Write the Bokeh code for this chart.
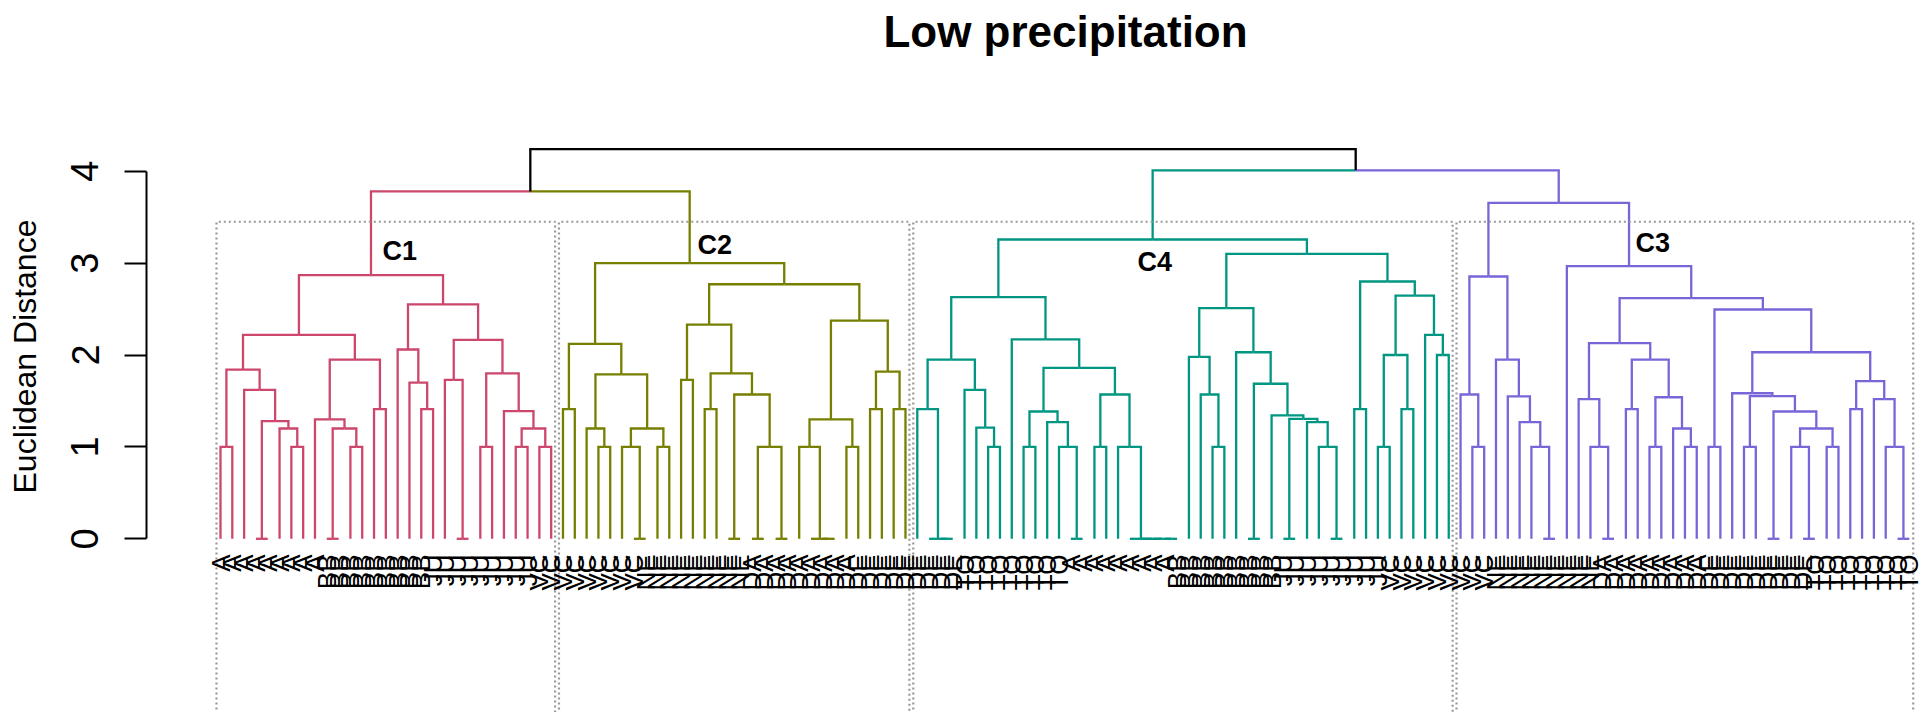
import math
from bokeh.plotting import figure
from bokeh.models import Range1d, FixedTicker, Label
from bokeh.core.properties import value
from bokeh.embed import file_html
from bokeh.resources import INLINE

# ---------------- data ----------------
title_text = "Low precipitation"
y_label = "Euclidean Distance"
y_ticks = [0, 1, 2, 3, 4]

# leaf labels (16 groups of 9 leaves, left to right)
label_groups = ["A", "BB", "JU", "VC", "NE", "DA", "DE", "TO",
                "A", "BB", "JU", "VC", "NE", "DA", "DE", "TO"]
group_size = 9

cluster_names = ["C1", "C2", "C4", "C3"]
cluster_colors = ["#CC476B", "#767F00", "#009681", "#7866D8"]

# merge trees: [left, right, height]; integers are leaf positions
c1_tree = [[[[0, 1, 1.00], [2, [[3, 4, 0.00], [5, [6, 7, 1.00], 1.20], 1.28], 1.62], 1.84],
            [[8, [[9, 10, 0.00], [11, 12, 1.00], 1.20], 1.30], [13, 14, 1.41], 1.95], 2.22],
           [[15, [16, [17, 18, 1.41], 1.70], 2.06],
            [[19, [20, 21, 0.00], 1.73],
             [[22, 23, 1.00], [24, [[25, 26, 1.00], [27, 28, 1.00], 1.20], 1.39], 1.80], 2.165], 2.55],
           2.87]

c2_tree = [[[29, 30, 1.41],
            [[31, [32, 33, 1.00], 1.20], [[34, [35, 36, 0.00], 1.00], [37, 38, 1.00], 1.20], 1.79], 2.12],
           [[[39, 40, 1.73],
             [[41, 42, 1.41], [[43, 44, 0.00], [[45, 46, 0.00], [47, 48, 0.00], 1.00], 1.57], 1.80], 2.33],
            [[[49, [50, [51, 52, 0.00], 0.00], 1.00], [53, 54, 1.00], 1.30],
             [[55, 56, 1.41], [57, 58, 1.41], 1.82], 2.375], 2.77],
           3.00]

c4_tree = [[[[59, [60, [61, 62, 0.00], 0.00], 1.41], [63, [64, [65, 66, 1.00], 1.21], 1.62], 1.95],
            [67, [[[68, 69, 1.00], [70, [71, [72, 73, 0.00], 1.00], 1.27], 1.385],
                  [[74, 75, 1.00], [76, [77, [78, [79, [80, 81, 0.00], 0.00], 0.00], 0.00], 1.00], 1.57],
                  1.86], 2.17], 2.63],
           [[[82, [83, [84, 85, 1.00], 1.57], 1.98],
             [86, [[87, 88, 0.00],
                   [89, [[90, 91, 0.00], [92, [93, [94, 95, 0.00], 1.00], 1.27], 1.306], 1.342],
                   1.687], 2.03], 2.51],
            [[96, 97, 1.41],
             [[[98, 99, 1.00], [100, 101, 1.41], 2.00], [102, [103, 104, 2.00], 2.22], 2.647], 2.80],
            3.10],
           3.257]

c3_tree = [[[105, [106, 107, 1.00], 1.57],
            [108, [109, [110, [111, [112, 113, 0.00], 1.00], 1.27], 1.55], 1.95], 2.854],
           [114,
            [[[115, [116, [117, 118, 0.00], 1.00], 1.52],
              [[119, 120, 1.41], [[121, 122, 1.00], [123, [124, 125, 1.00], 1.20], 1.54], 1.95], 2.13],
             [[126, 127, 1.00],
              [[128, [[129, 130, 1.00],
                      [[131, 132, 0.00], [[133, [134, 135, 0.00], 1.00], [136, 137, 1.00], 1.20], 1.385],
                      1.552], 1.584],
               [[138, 139, 1.41], [140, [141, [142, 143, 0.00], 1.00], 1.52], 1.715], 2.03],
              2.495], 2.618],
            2.967],
           3.656]

h_c1_c2 = 3.78
h_c4_c3 = 4.01
h_root = 4.24
box_top = 3.45

# ---------------- build geometry ----------------
xs, ys, cols = [], [], []


def draw(node, color):
    if isinstance(node, int):
        return float(node), 0.0, node, node
    l, r, h = node
    kids = [draw(l, color), draw(r, color)]
    x = (kids[0][0] + kids[1][0]) / 2.0
    for cx, ch, _, _ in kids:
        xs.append([cx, cx, x])
        ys.append([ch, h, h])
        cols.append(color)
    return x, h, min(kids[0][2], kids[1][2]), max(kids[0][3], kids[1][3])


trees = [c1_tree, c2_tree, c4_tree, c3_tree]
tops = [draw(t, c) for t, c in zip(trees, cluster_colors)]


def join(a, b, h, ca, cb):
    x = (a[0] + b[0]) / 2.0
    xs.append([a[0], a[0], x]); ys.append([a[1], h, h]); cols.append(ca)
    xs.append([b[0], b[0], x]); ys.append([b[1], h, h]); cols.append(cb)
    return (x, h)


n12 = join(tops[0], tops[1], h_c1_c2, cluster_colors[0], cluster_colors[1])
n43 = join(tops[2], tops[3], h_c4_c3, cluster_colors[2], cluster_colors[3])
join(n12, n43, h_root, "black", "black")

# pixel mapping of the reference
px_leaf0, px_step = 220.0, 11.81
py_zero, py_unit = 538.3, 91.9
W_PX, H_PX, LEFT = 1928, 712, 146

x_start = (LEFT - px_leaf0) / px_step
x_end = (W_PX - px_leaf0) / px_step
y_end = py_zero / py_unit
y_start = (py_zero - H_PX) / py_unit

p = figure(width=W_PX, height=H_PX, output_backend="svg", toolbar_location=None,
           x_range=Range1d(x_start, x_end), y_range=Range1d(y_start, y_end),
           x_axis_location=None, min_border_left=LEFT, min_border_right=0,
           min_border_top=0, min_border_bottom=0)
p.outline_line_color = None
p.xgrid.visible = False
p.ygrid.visible = False
p.background_fill_color = "white"
p.border_fill_color = "white"

# dendrogram
p.multi_line(xs=xs, ys=ys, line_color=cols, line_width=2.3, line_join="miter")

# dotted cluster boxes
bx, by = [], []
for t in tops:
    lo, hi = t[2], t[3]
    bx.append([lo - 0.34, lo - 0.34, hi + 0.33, hi + 0.33])
    by.append([y_start - 1, box_top, box_top, y_start - 1])
p.multi_line(xs=bx, ys=by, line_color="#999999", line_width=2.2, line_dash="2 3")

# leaf labels
leaf_labels = [g for g in label_groups for _ in range(group_size)]
leaf_x = list(range(len(leaf_labels)))
label_y = (py_zero - 554.0) / py_unit
p.text(x=leaf_x, y=[label_y] * len(leaf_x), text=leaf_labels, angle=math.pi / 2,
       text_align="right", text_baseline="middle", text_color="black",
       text_font=value("Liberation Sans"), text_font_size=value("26px"))

# cluster names
cl_px = [(382.0, 250.0), (697.0, 244.5), (1137.0, 261.0), (1635.0, 242.5)]
p.text(x=[(a - px_leaf0) / px_step for a, _ in cl_px],
       y=[(py_zero - b) / py_unit for _, b in cl_px],
       text=cluster_names, text_align="left", text_baseline="middle", text_color="black",
       text_font=value("Liberation Sans"), text_font_style="bold", text_font_size=value("27px"))

# title
p.add_layout(Label(x=(1065 - px_leaf0) / px_step, y=(py_zero - 31.0) / py_unit, text=title_text,
                   text_align="center", text_baseline="alphabetic", text_font="Liberation Sans",
                   text_font_style="bold", text_font_size="44px", text_color="black"))

# y axis
ax = p.yaxis[0]
ax.bounds = (0, 4)
ax.ticker = FixedTicker(ticks=y_ticks)
ax.axis_label = y_label
ax.axis_label_text_font = "Liberation Sans"
ax.axis_label_text_font_size = "32px"
ax.axis_label_text_font_style = "normal"
ax.axis_label_text_color = "black"
ax.axis_label_standoff = 26
ax.major_label_text_font = "Liberation Sans"
ax.major_label_text_font_size = "38px"
ax.major_label_text_color = "black"
ax.major_label_orientation = "parallel"
ax.major_label_standoff = 26
ax.major_tick_out = 22
ax.major_tick_in = 0
ax.minor_tick_line_color = None
ax.axis_line_width = 2
ax.major_tick_line_width = 2
ax.axis_line_color = "black"
ax.major_tick_line_color = "black"

open("out.html", "w").write(file_html(p, INLINE))
